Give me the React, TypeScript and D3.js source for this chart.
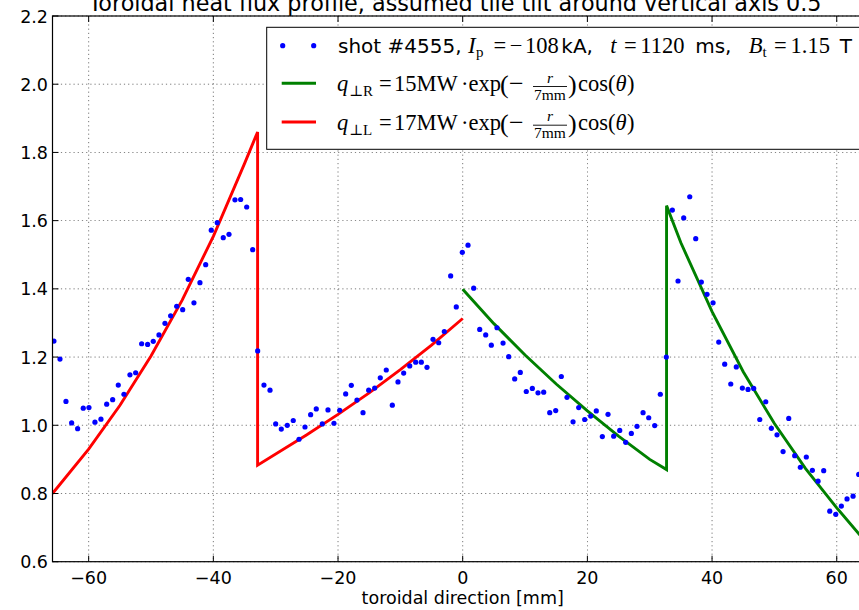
import React from "react";
import * as d3 from "d3";

// measured points
const shotX = [-65.57,-64.60,-63.64,-62.73,-61.77,-60.87,-59.95,-58.99,-58.03,-57.11,-56.15,-55.25,-54.34,-53.38,-52.46,-51.50,-50.54,-49.64,-48.72,-47.76,-46.85,-45.88,-44.92,-44.02,-43.11,-42.15,-41.23,-40.33,-39.37,-38.41,-37.49,-36.53,-35.62,-34.65,-33.69,-32.89,-31.88,-30.91,-30.00,-29.10,-28.14,-27.18,-26.26,-25.30,-24.39,-23.49,-22.52,-21.61,-20.65,-19.73,-18.77,-17.87,-16.96,-15.99,-15.08,-14.12,-13.22,-12.26,-11.29,-10.38,-9.47,-8.50,-7.54,-6.64,-5.73,-4.76,-3.85,-2.95,-1.93,-1.03,-0.06,0.85,1.76,2.73,3.69,4.59,5.50,6.47,7.38,8.34,9.24,10.20,11.17,12.08,12.99,13.96,14.92,15.82,16.73,17.70,18.61,19.57,20.53,21.43,22.40,23.31,24.22,25.19,26.15,27.05,27.96,28.93,29.84,30.80,31.70,32.66,33.63,34.54,35.45,36.42,37.38,38.28,39.19,40.16,41.07,42.03,43.00,43.89,44.86,45.77,46.68,47.65,48.61,49.51,50.42,51.39,52.30,53.26,54.16,55.12,56.09,57.00,57.91,58.88,59.84,60.74,61.65,62.62,63.53];
const shotY = [1.247,1.194,1.070,1.007,0.990,1.050,1.052,1.009,1.018,1.062,1.075,1.118,1.091,1.148,1.154,1.239,1.237,1.246,1.265,1.299,1.321,1.349,1.339,1.428,1.359,1.418,1.471,1.572,1.594,1.550,1.560,1.661,1.662,1.640,1.515,1.218,1.118,1.103,1.004,0.989,1.000,1.014,0.959,0.995,1.031,1.048,1.004,1.045,1.006,1.044,1.092,1.117,1.074,1.037,1.103,1.109,1.139,1.162,1.059,1.127,1.153,1.174,1.185,1.185,1.170,1.252,1.242,1.275,1.438,1.347,1.507,1.528,1.402,1.281,1.265,1.235,1.286,1.241,1.201,1.136,1.155,1.099,1.108,1.095,1.097,1.037,1.043,1.143,1.082,1.010,1.052,1.017,1.027,1.042,0.967,1.032,0.968,0.985,0.950,0.976,0.997,1.037,1.022,0.999,1.091,1.200,1.631,1.423,1.608,1.670,1.547,1.420,1.384,1.359,1.244,1.179,1.121,1.171,1.109,1.105,1.108,1.017,1.069,0.991,0.972,0.923,1.020,0.911,0.877,0.907,0.868,0.836,0.867,0.748,0.739,0.763,0.784,0.792,0.856];

// model curves
const leftX = [-65.8,-60,-55,-50,-45,-40,-35,-32.9,-32.9,-25,-20,-15,-10,-5,0];
const leftY = [0.800,0.930,1.058,1.203,1.367,1.554,1.767,1.860,0.883,0.972,1.032,1.095,1.163,1.235,1.313];
const rightX = [0,5,10,15,20,25,30,32.7,32.7,35,40,45,50,55,60,65];
const rightY = [1.399,1.298,1.206,1.121,1.042,0.968,0.900,0.870,1.644,1.535,1.333,1.157,1.005,0.873,0.758,0.650];

const xTicks = [-60,-40,-20,0,20,40,60];
const yTicks = [0.6,0.8,1.0,1.2,1.4,1.6,1.8,2.0,2.2];

const titleText = "Toroidal heat flux profile, assumed tile tilt around vertical axis 0.5";
const xLabel = "toroidal direction [mm]";

const W = 859, H = 610;
const L = 52.5, R = 872.9, T = 16, B = 561.7;

const sans = "'DejaVu Sans', sans-serif";
const serif = "'Liberation Serif', 'DejaVu Serif', serif";

type Piece = { t: string; x: number; dy?: number; s?: number; it?: boolean; sans?: boolean };

function Pieces({ items, yb }: { items: Piece[]; yb: number }) {
  return (
    <g>
      {items.map((p, i) => (
        <text
          key={i}
          x={p.x}
          y={yb + (p.dy || 0)}
          fontFamily={p.sans ? sans : serif}
          fontSize={p.s || 22.5}
          fontStyle={p.it ? "italic" : "normal"}
          fill="#000"
        >
          {p.t}
        </text>
      ))}
    </g>
  );
}

const row1: Piece[] = [
  { t: "shot #4555,", x: 338, s: 20, sans: true },
  { t: "I", x: 468, s: 23, it: true },
  { t: "p", x: 476, s: 15, dy: 4 },
  { t: "=", x: 493.4 },
  { t: "\u2212", x: 509.8 },
  { t: "108", x: 525 },
  { t: "kA,", x: 561.3, s: 20, sans: true },
  { t: "t", x: 610.2, it: true },
  { t: "=", x: 623.9 },
  { t: "1120", x: 640.3 },
  { t: "ms,", x: 695.2, s: 20, sans: true },
  { t: "B", x: 748.8, it: true },
  { t: "t", x: 762.5, s: 15, dy: 4 },
  { t: "=", x: 774.1 },
  { t: "1.15", x: 790.5 },
  { t: "T", x: 839.8, s: 20, sans: true },
];

const mathRow = (sub: string, amp: string): Piece[] => [
  { t: "q", x: 337, it: true },
  { t: "\u22A5" + sub, x: 349, s: 15, dy: 5 },
  { t: "=", x: 379 },
  { t: amp + "MW", x: 394 },
  { t: "\u00B7exp", x: 461 },
  { t: "(", x: 500, s: 26, dy: 2 },
  { t: "\u2212", x: 509, s: 26, dy: 1 },
  { t: ")", x: 568, s: 26, dy: 2 },
  { t: "cos", x: 578 },
  { t: "(", x: 608 },
  { t: "\u03B8", x: 615.5, it: true },
  { t: ")", x: 627 },
];

export default function App() {
  const x = d3.scaleLinear().domain([-65.8, 65.8]).range([L, R]);
  const y = d3.scaleLinear().domain([0.6, 2.2]).range([B, T]);
  const line = d3.line<[number, number]>().x(d => x(d[0])).y(d => y(d[1]));
  const redPts: [number, number][] = leftX.map((v, i) => [v, leftY[i]]);
  const greenPts: [number, number][] = rightX.map((v, i) => [v, rightY[i]]);
  const fs = 17.5;
  const gridStyle = { stroke: "#000", strokeWidth: 0.7, strokeDasharray: "1.2,3", opacity: 0.75 };
  const tk = 6;

  const frac = (yb: number) => (
    <g>
      <text x={550} y={yb - 8.5} fontFamily={serif} fontSize={15.5} fontStyle="italic" textAnchor="middle">r</text>
      <line x1={533} x2={567} y1={yb - 4.5} y2={yb - 4.5} stroke="#000" strokeWidth={0.9} />
      <text x={550} y={yb + 8.5} fontFamily={serif} fontSize={15.5} textAnchor="middle">7mm</text>
    </g>
  );

  return (
    <svg width={W} height={H} style={{ position: "absolute", left: 0, top: 0, background: "#fff" }}>
      <rect x={0} y={0} width={W} height={H} fill="#fff" />
      <defs>
        <clipPath id="plot">
          <rect x={L} y={T} width={R - L} height={B - T} />
        </clipPath>
      </defs>
      <text x={455} y={11} textAnchor="middle" fontFamily={sans} fontSize={22.3}>
        {titleText}
      </text>
      {/* grid */}
      {xTicks.map(t => (
        <line key={"gx" + t} x1={x(t)} x2={x(t)} y1={T} y2={B} style={gridStyle} />
      ))}
      {yTicks.map(t => (
        <line key={"gy" + t} x1={L} x2={R} y1={y(t)} y2={y(t)} style={gridStyle} />
      ))}
      <g clipPath="url(#plot)">
        <path d={line(redPts) || ""} fill="none" stroke="#ff0000" strokeWidth={2.9} strokeLinejoin="miter" />
        <path d={line(greenPts) || ""} fill="none" stroke="#008000" strokeWidth={2.9} strokeLinejoin="miter" />
        {shotX.map((v, i) => (
          <circle key={i} cx={x(v)} cy={y(shotY[i])} r={2.6} fill="#0000ff" />
        ))}
      </g>
      {/* ticks */}
      {xTicks.map(t => (
        <g key={"tx" + t}>
          <line x1={x(t)} x2={x(t)} y1={B} y2={B - tk} stroke="#000" strokeWidth={1} />
          <line x1={x(t)} x2={x(t)} y1={T} y2={T + tk} stroke="#000" strokeWidth={1} />
          <text x={x(t)} y={583.5} textAnchor="middle" fontFamily={sans} fontSize={fs}>
            {t < 0 ? "\u2212" + Math.abs(t) : String(t)}
          </text>
        </g>
      ))}
      {yTicks.map(t => (
        <g key={"ty" + t}>
          <line x1={L} x2={L + tk} y1={y(t)} y2={y(t)} stroke="#000" strokeWidth={1} />
          <line x1={R} x2={R - tk} y1={y(t)} y2={y(t)} stroke="#000" strokeWidth={1} />
          <text x={48} y={y(t) + 6.5} textAnchor="end" fontFamily={sans} fontSize={fs}>
            {t.toFixed(1)}
          </text>
        </g>
      ))}
      {/* spines */}
      <rect x={L} y={T} width={R - L} height={B - T} fill="none" stroke="#000" strokeWidth={1.2} />
      <text x={(L + R) / 2} y={604} textAnchor="middle" fontFamily={sans} fontSize={fs}>
        {xLabel}
      </text>
      {/* legend */}
      <rect x={266.7} y={27.3} width={600} height={122} fill="#fff" stroke="#000" strokeWidth={1} />
      <circle cx={282.7} cy={45.7} r={2.6} fill="#0000ff" />
      <circle cx={313.7} cy={45.7} r={2.6} fill="#0000ff" />
      <Pieces items={row1} yb={53} />
      <line x1={281.7} x2={316} y1={83.3} y2={83.3} stroke="#008000" strokeWidth={2.9} />
      <Pieces items={mathRow("R", "15")} yb={91} />
      {frac(91)}
      <line x1={281.7} x2={316} y1={122} y2={122} stroke="#ff0000" strokeWidth={2.9} />
      <Pieces items={mathRow("L", "17")} yb={129.7} />
      {frac(129.7)}
    </svg>
  );
}
